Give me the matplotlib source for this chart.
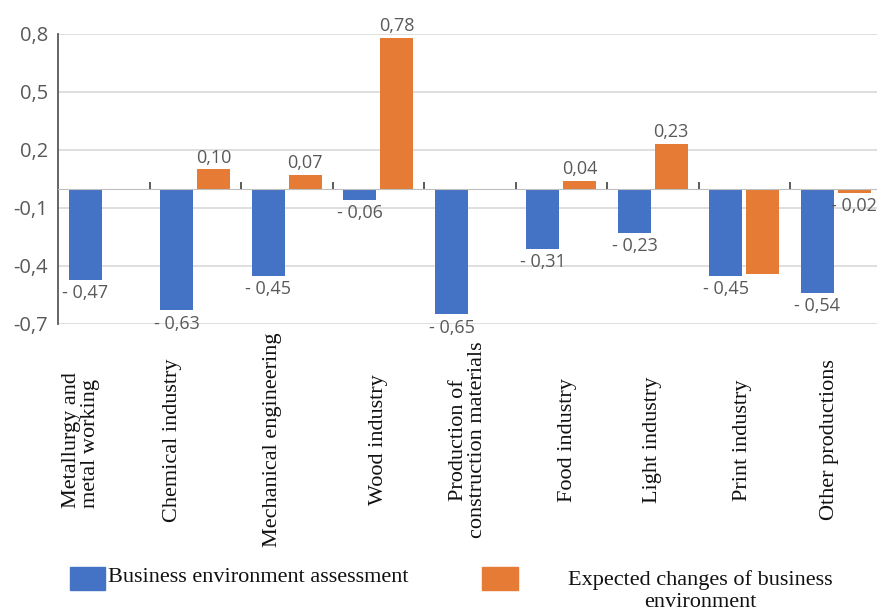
import numpy as np
import matplotlib.pyplot as plt
from matplotlib.patches import Rectangle

# industries and the two scores per industry
categories = ["Metallurgy and\nmetal working", "Chemical industry", "Mechanical engineering",
              "Wood industry", "Production of\nconstruction materials", "Food industry",
              "Light industry", "Print industry", "Other productions"]
assessment = [-0.47, -0.63, -0.45, -0.06, -0.65, -0.31, -0.23, -0.45, -0.54]
expected = [np.nan, 0.10, 0.07, 0.78, np.nan, 0.04, 0.23, -0.44, -0.02]
expected_labeled = [False, True, True, True, False, True, True, False, True]
yticks = [-0.7, -0.4, -0.1, 0.2, 0.5, 0.8]

blue = "#4472C4"
orange = "#E57B35"
txt_gray = "#595959"


def fmt(v):
    s = f"{abs(v):.2f}".replace(".", ",")
    return "- " + s if v < 0 else s


fig = plt.figure(figsize=(8.77, 6.11), dpi=100)
ax = fig.add_axes([58 / 877, 1 - 324 / 611, 823.5 / 877, 290 / 611])

x = np.arange(len(categories))
w = 0.36
off = 0.2
ax.bar(x - off, assessment, w, color=blue, zorder=3)
ax.bar(x + off, expected, w, color=orange, zorder=3)

lab_font = dict(family="Open Sans", fontsize=13, color=txt_gray)
for xi, v in zip(x, assessment):
    ax.annotate(fmt(v), (xi - off, v), xytext=(0, -3), textcoords="offset points",
                ha="center", va="top", **lab_font)
for xi, v, show in zip(x, expected, expected_labeled):
    if not show:
        continue
    dy = 2 if v >= 0 else -3
    ax.annotate(fmt(v), (xi + off, v), xytext=(0, dy), textcoords="offset points",
                ha="center", va="bottom" if v >= 0 else "top", **lab_font)

ax.set_xlim(-0.5, len(categories) - 0.5)
ax.set_ylim(-0.7, 0.8)
ax.set_yticks(yticks)
ax.set_yticklabels([f"{t:.1f}".replace(".", ",") for t in yticks],
                   fontsize=14.5, color=txt_gray, family="Open Sans")
ax.tick_params(axis="y", length=0, pad=7)
ax.yaxis.grid(True, color="#d9d9d9", lw=1.2, zorder=0)

# zero line carries the small category separators
ax.spines["bottom"].set_position(("data", 0))
ax.spines["bottom"].set_color("#bfbfbf")
ax.spines["bottom"].set_zorder(4)
ax.set_xticks(np.arange(0.5, len(categories) - 0.5))
ax.tick_params(axis="x", direction="in", length=5, width=1.2, color="#404040", labelbottom=False)
for s in ["top", "right"]:
    ax.spines[s].set_visible(False)
ax.spines["left"].set_color(txt_gray)
ax.spines["left"].set_linewidth(1.3)

# rotated category names under the plot
shift = [-0.25, -0.25, -0.16, 0.0, -0.02, 0.07, 0.0, -0.02, -0.07]
align = ["left", "center", "center", "center", "center", "center", "center", "center", "center"]
for xi, name, sh, al in zip(x, categories, shift, align):
    xf = ax.transData.transform((xi + sh, 0))[0] / fig.bbox.width
    fig.text(xf, 1 - 440 / 611, name, rotation=90, ha="center", va="center",
             multialignment=al, linespacing=1.0, family="Liberation Serif",
             fontsize=16, color="#111111")

# legend
fig.add_artist(Rectangle((70 / 877, 1 - 590 / 611), 35 / 877, 23 / 611,
                         transform=fig.transFigure, color=blue))
fig.add_artist(Rectangle((482 / 877, 1 - 590 / 611), 36 / 877, 23 / 611,
                         transform=fig.transFigure, color=orange))
leg_font = dict(family="Liberation Serif", fontsize=16, color="#111111")
fig.text(108 / 877, 1 - 578 / 611, "Business environment assessment", ha="left", va="center", **leg_font)
fig.text(700 / 877, 1 - 591 / 611, "Expected changes of business\nenvironment", ha="center",
         va="center", multialignment="center", linespacing=1.15, **leg_font)

fig.savefig("out.png", dpi=100)
